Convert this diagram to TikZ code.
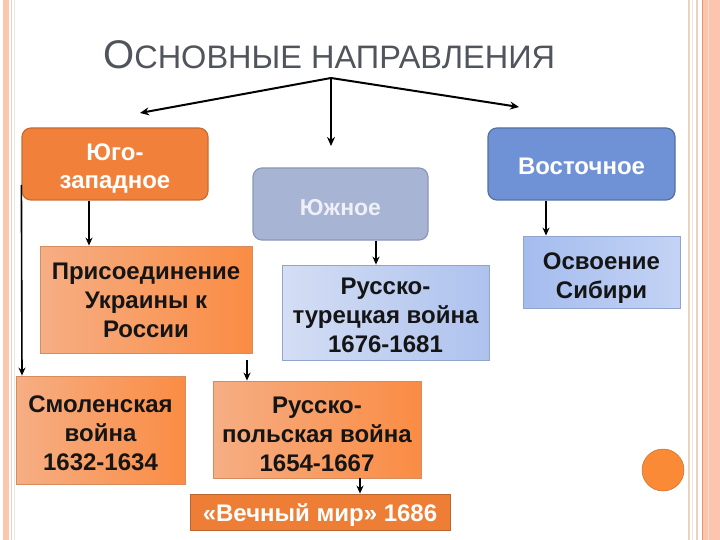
\documentclass[tikz,border=0pt]{standalone}
\usepackage{fontspec}
\setmainfont{Liberation Sans}
\usetikzlibrary{arrows.meta}
\definecolor{salmon}{HTML}{FCC5AE}
\definecolor{salmonline}{HTML}{EC9468}
\definecolor{tanline}{HTML}{EBD3C3}
\definecolor{orangehead}{HTML}{F0803A}
\definecolor{orangeborder}{HTML}{C86C33}
\definecolor{bluehead}{HTML}{6F92D6}
\definecolor{blueborder}{HTML}{52729F}
\definecolor{grayhead}{HTML}{A8B4D3}
\definecolor{grayborder}{HTML}{8A97B8}
\definecolor{grayheadtext}{HTML}{EEF0F6}
\definecolor{titlegray}{HTML}{50545C}
\definecolor{oboxL}{HTML}{F6AE84}
\definecolor{oboxR}{HTML}{FA8C44}
\definecolor{oboxborder}{HTML}{D58D5F}
\definecolor{bboxL}{HTML}{D4DEF4}
\definecolor{bboxR}{HTML}{AEC2EE}
\definecolor{bboxborder}{HTML}{90A4CE}
\definecolor{sibL}{HTML}{A4BCEE}
\definecolor{sibR}{HTML}{C4D3F5}
\definecolor{mirfill}{HTML}{EE7E35}
\definecolor{mirborder}{HTML}{B9652F}
\definecolor{dotfill}{HTML}{FA8A35}
\definecolor{eventtext}{HTML}{151515}
\newcommand{\tstrut}[1]{\rule{0pt}{#1pt}}
\tikzset{
  headbox/.style={rounded corners=9pt, draw, line width=1.2pt, align=center,
    font=\bfseries\fontsize{24}{28}\selectfont, text=white, inner sep=0pt},
  eventbox/.style={draw, line width=0.8pt, align=center,
    font=\bfseries\fontsize{24}{29}\selectfont, text=eventtext, inner sep=0pt},
  obox/.style={eventbox, left color=oboxL, right color=oboxR, draw=oboxborder},
  bbox/.style={eventbox, left color=bboxL, right color=bboxR, draw=bboxborder},
  arr/.style={line width=1.6pt, -{Stealth[length=8pt,width=7pt]}},
  toparr/.style={line width=2pt, -{Stealth[length=9pt,width=8pt]}}
}
\begin{document}
\begin{tikzpicture}[x=1pt,y=-1pt]
\useasboundingbox (0,0) rectangle (720,540);
\fill[white] (0,0) rectangle (720,540);
% side decorations
\fill[salmon] (3,0) rectangle (9,540);
\draw[tanline, line width=1pt] (11.5,0) -- (11.5,540);
\draw[tanline!60, line width=1pt] (14.5,0) -- (14.5,540);
\draw[tanline, line width=1.2pt] (689,0) -- (689,540);
\draw[tanline!60, line width=1pt] (692.5,0) -- (692.5,540);
\draw[tanline, line width=1.2pt] (697,0) -- (697,540);
\fill[salmon] (702,0) rectangle (720,540);
\draw[salmonline, line width=1pt] (702,0) -- (702,540);
\draw[salmonline!30, line width=1pt] (708,0) -- (708,540);

% title
\node[anchor=base west, inner sep=0pt, text=titlegray] (title) at (103,69)
  {\fontsize{40}{40}\selectfont О\fontsize{32.5}{32.5}\selectfont СНОВНЫЕ НАПРАВЛЕНИЯ};

% head boxes
\node[headbox, fill=orangehead, draw=orangeborder, minimum width=186pt, minimum height=72pt] (yz) at (115,164)
  {\tstrut{26}Юго-\\западное};
\node[headbox, fill=bluehead, draw=blueborder, minimum width=187pt, minimum height=72pt] (vost) at (581.5,164)
  {\tstrut{21}Восточное};
\node[headbox, fill=grayhead, draw=grayborder, text=grayheadtext, font=\bfseries\fontsize{23}{28}\selectfont,
  minimum width=175pt, minimum height=72pt] (yuzh) at (340.5,204) {\tstrut{23}Южное};

% event boxes
\node[obox, minimum width=212pt, minimum height=107pt] (pris) at (146,299.5)
  {\tstrut{19}Присоединение\\Украины к\\России};
\node[bbox, minimum width=207pt, minimum height=95pt] (turk) at (385.5,312.5)
  {\tstrut{23}Русско-\\турецкая война\\1676-1681};
\node[eventbox, left color=sibL, right color=sibR, draw=bboxborder, minimum width=157pt, minimum height=72pt] (sib) at (601.5,272)
  {\tstrut{29}Освоение\\Сибири};
\node[obox, minimum width=169pt, minimum height=108pt] (smol) at (100.5,430)
  {\tstrut{23}Смоленская\\война\\1632-1634};
\node[obox, minimum width=208pt, minimum height=97pt] (pol) at (317,429.5)
  {\tstrut{27}Русско-\\польская война\\1654-1667};
\node[eventbox, fill=mirfill, draw=mirborder, text=white, minimum width=260pt, minimum height=36pt] (mir) at (320,512)
  {\tstrut{23}«Вечный мир» 1686};

% decoration dot
\node[circle, fill=dotfill, draw=dotfill!80!black, line width=0.5pt, minimum size=42pt, inner sep=0pt] (dot) at (663,470) {};

% top connectors
\coordinate (apex) at (331,78);
\coordinate (lend) at (140,113);
\coordinate (rend) at (519,107);
\coordinate (dend) at (331,146);
\draw[toparr] (apex) -- (lend);
\draw[toparr] (apex) -- (rend);
\draw[toparr] (apex) -- (dend);

% connectors
\draw[arr] (yz.south -| 89,0) -- (pris.north -| 89,0);
\draw[arr] (yz.west |- 0,185) -- (smol.north -| 22,0);
\draw[arr] (247,360) -- (pol.north -| 247,0);
\draw[arr] (yuzh.south -| 376,0) -- (turk.north -| 376,0);
\draw[arr] (vost.south -| 546,0) -- (sib.north -| 546,0);
\draw[arr] (pol.south -| 360,0) -- (mir.north -| 360,0);
\end{tikzpicture}
\end{document}
